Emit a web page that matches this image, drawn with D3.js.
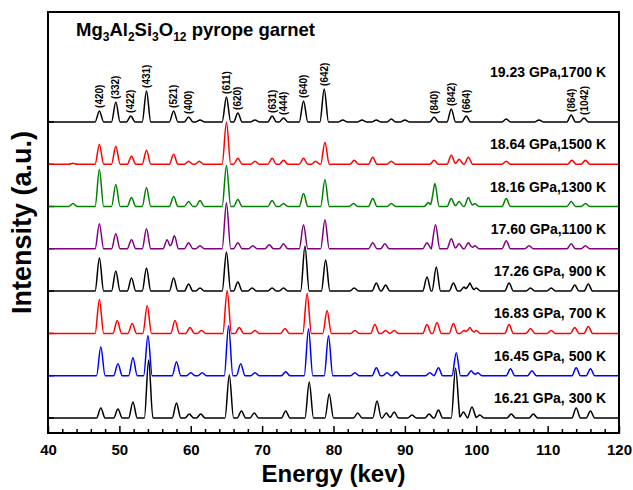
<!DOCTYPE html>
<html>
<head>
<meta charset="utf-8">
<script src="https://d3js.org/d3.v7.min.js"></script>
<style>
  body { margin: 0; background: #fff; }
  text { font-family: "Liberation Sans", Arial, sans-serif; font-weight: bold; fill: #000; }
</style>
</head>
<body>
<svg id="chart"></svg>
<script>
const WIDTH = 633;
const HEIGHT = 490;
const M = { left: 48, right: 14, top: 12, bottom: 57 };

// spectra listed bottom to top
const seriesLabels = ["16.21 GPa, 300 K", "16.45 GPa, 500 K", "16.83 GPa, 700 K", "17.26 GPa, 900 K",
  "17.60 GPa,1100 K", "18.16 GPa,1300 K", "18.64 GPa,1500 K", "19.23 GPa,1700 K"];
const seriesColors = ["#000000", "#0000ff", "#ff0000", "#000000", "#800080", "#008000", "#ff0000", "#000000"];

// [energy keV, peak height a.u.]
const p300 = [[47.4,10],[49.8,9],[51.9,16],[54.1,58],[58.0,15],[59.8,4],[61.4,4],[65.4,43],[67.1,7],[68.9,5],
  [73.3,7],[76.6,36],[79.4,24],[83.4,5],[86.1,17],[87.4,5],[88.5,6],[91.0,3],[93.4,4],[94.7,8],[97.1,50],
  [98.2,6],[99.4,11],[100.5,3],[104.9,4],[108.0,4],[114.0,10],[116.0,7]];
const p500 = [[47.4,29],[49.8,12],[51.9,18],[54.0,40],[58.0,14],[60.0,3],[61.6,3],[65.3,50],[67.0,12],[69.0,3],
  [73.3,4],[76.5,47],[79.3,40],[83.0,3],[86.0,8],[87.5,3],[88.8,4],[93.5,3],[94.7,8],[97.2,23],[99.3,5],
  [100.2,3],[104.8,7],[107.8,5],[114.0,8],[116.0,7]];
const p700 = [[47.2,34],[49.7,13],[51.8,10],[53.9,28],[57.8,13],[59.9,6],[61.5,3],[65.1,43],[66.8,6],[69.0,3],
  [73.2,5],[76.3,40],[79.1,23],[83.0,3],[85.8,9],[87.3,3],[88.5,3],[93.1,9],[94.5,11],[96.8,10],[98.3,3],
  [99.1,6],[100.0,3],[104.6,9],[107.6,5],[110.5,3],[113.8,6],[115.7,7]];
const p900 = [[47.2,33],[49.5,20],[51.7,13],[53.8,23],[57.6,13],[59.7,7],[61.3,3],[65.0,39],[66.6,9],[68.6,3],
  [71.4,3],[73.0,3],[76.0,45],[78.9,31],[82.9,3],[86.0,8],[87.3,6],[93.1,14],[94.4,24],[96.8,8],[98.3,4],
  [99.1,8],[100.0,3],[104.6,8],[107.6,3],[110.5,3],[113.8,6],[115.7,7]];
const p1100 = [[47.2,25],[49.5,15],[51.7,9],[53.8,20],[56.7,9],[57.7,13],[59.7,6],[61.3,3],[65.0,46],[66.6,6],
  [68.7,3],[71.0,4],[73.0,5],[75.8,24],[78.8,29],[85.5,6],[87.2,5],[93.1,6],[94.3,24],[96.5,10],[97.6,5],
  [98.9,6],[99.8,3],[104.2,8],[107.4,3],[113.3,5],[115.3,3]];
const p1300 = [[43.5,3],[47.2,37],[49.5,22],[51.7,9],[53.8,19],[57.6,10],[59.7,5],[61.3,6],[65.0,41],[66.6,7],
  [71.4,6],[73.0,3],[75.8,13],[78.8,27],[82.8,3],[85.5,8],[88.1,3],[93.3,4],[94.2,23],[96.5,8],[97.6,5],
  [98.9,9],[99.8,3],[104.2,8],[113.3,5],[115.3,3]];
const p1500 = [[43.5,1],[47.2,20],[49.5,18],[51.7,8],[53.8,14],[57.6,10],[59.7,3],[61.2,3],[65.0,42],[66.6,6],
  [69.0,3],[71.4,6],[73.0,4],[75.8,6],[77.5,3],[78.8,22],[82.9,4],[85.5,7],[88.1,3],[94.1,4],[96.5,9],
  [97.6,5],[98.9,7],[104.2,3],[113.4,4],[115.3,4]];
const p1700 = [[47.2,11],[49.5,20],[51.6,6],[53.8,31],[57.6,11],[59.7,5],[61.3,2],[65.0,25],[66.6,9],[69.0,2],
  [71.4,6],[73.0,4],[75.8,21],[78.7,33],[81.3,2],[84.0,2],[86.0,2],[88.1,3],[90.0,2],[94.1,5],[96.5,13],
  [98.6,6],[104.2,3],[108.8,2],[113.3,7],[115.1,4]];
const spectra = [p300, p500, p700, p900, p1100, p1300, p1500, p1700];

// reflections marked on the top spectrum
const hklNames = ["(420)","(332)","(422)","(431)","(521)","(400)","(611)","(620)","(631)","(444)",
  "(640)","(642)","(840)","(842)","(664)","(864)","(1042)"];
const hklEnergy = [47.2,49.5,51.6,53.8,57.6,59.7,65.0,66.6,71.4,73.0,75.8,78.7,94.1,96.5,98.6,113.3,115.1];

const majorTicks = [40,50,60,70,80,90,100,110,120];
const minorTicks = [42,44,46,48,52,54,56,58,62,64,66,68,72,74,76,78,82,84,86,88,
  92,94,96,98,102,104,106,108,112,114,116,118];

const OFFSET = 42.3;   // vertical shift between spectra, a.u.
const HALF = 0.6;      // half base width of a peak, keV

function profile(peaks) {
  let xs = [40, 120];
  peaks.forEach(p => xs.push(p[0] - HALF, p[0], p[0] + HALF));
  xs = Array.from(new Set(xs)).sort((a, b) => a - b);
  return xs.map(e => [e, d3.sum(peaks, p => Math.max(0, p[1] * (1 - Math.abs(e - p[0]) / HALF)))]);
}

window.addEventListener("load", () => {
  const svg = d3.select("#chart").attr("width", WIDTH).attr("height", HEIGHT);

  const x = d3.scaleLinear().domain([40, 120]).range([M.left, WIDTH - M.right]);
  const y = d3.scaleLinear().domain([-15, 406]).range([HEIGHT - M.bottom, M.top]);

  const line = d3.line().x(d => x(d[0])).y(d => y(d[1])).curve(d3.curveMonotoneX);

  svg.append("clipPath").attr("id", "clip").append("rect")
    .attr("x", M.left).attr("y", M.top)
    .attr("width", x(120) - M.left).attr("height", y(-15) - M.top);

  const g = svg.append("g").attr("clip-path", "url(#clip)");
  spectra.forEach((peaks, i) => {
    const base = i * OFFSET;
    g.append("path")
      .datum(profile(peaks).map(d => [d[0], d[1] + base]))
      .attr("fill", "none").attr("stroke", seriesColors[i])
      .attr("stroke-width", 1.5).attr("stroke-linejoin", "round")
      .attr("d", line);

    // coloured tick on the left axis at each baseline
    svg.append("line")
      .attr("x1", M.left).attr("x2", M.left + 6)
      .attr("y1", y(base)).attr("y2", y(base))
      .attr("stroke", seriesColors[i]).attr("stroke-width", 1.5);

    svg.append("text")
      .attr("x", 606).attr("y", y(base) - (i === 7 ? 45 : 15))
      .attr("text-anchor", "end").attr("font-size", 14)
      .text(seriesLabels[i]);
  });

  // hkl labels above the top spectrum
  const top = spectra[7];
  hklNames.forEach((name, i) => {
    const e = hklEnergy[i];
    const pk = top.reduce((a, b) => Math.abs(b[0] - e) < Math.abs(a[0] - e) ? b : a);
    const yy = y(7 * OFFSET + pk[1]) - 3;
    svg.append("text")
      .attr("transform", `translate(${x(e)},${yy}) rotate(-90)`)
      .attr("dy", "0.35em").attr("font-size", 10)
      .text(name);
  });

  // x axis, ticks pointing inward
  const yAxis = y(-15);
  svg.append("g").attr("transform", `translate(0,${yAxis})`)
    .call(d3.axisBottom(x).tickValues(minorTicks).tickSize(-4).tickFormat(""))
    .call(a => a.select(".domain").remove())
    .call(a => a.selectAll("line").attr("stroke-width", 1.5));
  svg.append("g").attr("transform", `translate(0,${yAxis})`)
    .call(d3.axisBottom(x).tickValues(majorTicks).tickSize(-7).tickPadding(11))
    .call(a => a.select(".domain").remove())
    .call(a => a.selectAll("line").attr("stroke-width", 1.5))
    .call(a => a.selectAll("text").attr("font-size", 15)
      .attr("font-family", "'Liberation Sans', Arial, sans-serif").attr("font-weight", "bold"));

  // frame
  svg.append("rect")
    .attr("x", M.left).attr("y", M.top)
    .attr("width", x(120) - M.left).attr("height", yAxis - M.top)
    .attr("fill", "none").attr("stroke", "#000").attr("stroke-width", 2);

  // title inside plot
  const t = svg.append("text").attr("x", 76).attr("y", 36).attr("font-size", 18.5);
  [["Mg", 0], ["3", 1], ["Al", 0], ["2", 1], ["Si", 0], ["3", 1], ["O", 0], ["12", 1], [" pyrope garnet", 0]]
    .forEach(([s, sub], i, arr) => {
      const prev = i > 0 ? arr[i - 1][1] : 0;
      t.append("tspan")
        .attr("dy", sub - prev === 1 ? 5 : sub - prev === -1 ? -5 : 0)
        .attr("font-size", sub ? 12 : 18.5)
        .text(s);
    });

  svg.append("text")
    .attr("x", (M.left + x(120)) / 2).attr("y", 482)
    .attr("text-anchor", "middle").attr("font-size", 24)
    .text("Energy (kev)");

  svg.append("text")
    .attr("transform", `translate(31,${(M.top + yAxis) / 2}) rotate(-90)`)
    .attr("text-anchor", "middle").attr("font-size", 27)
    .text("Intensity (a.u.)");
});
</script>
</body>
</html>
